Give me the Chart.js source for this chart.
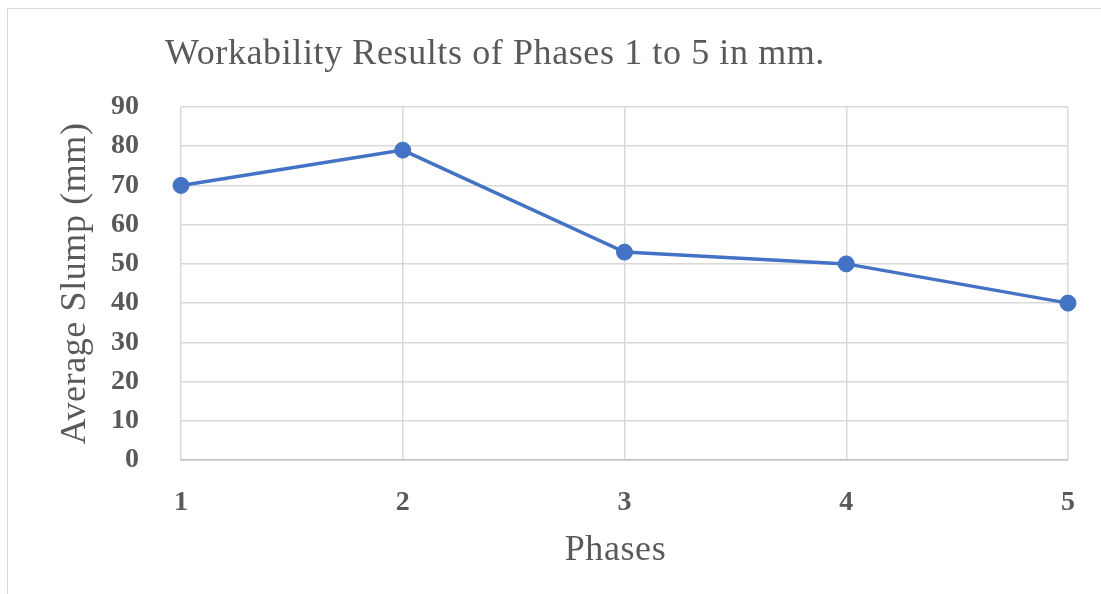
<!DOCTYPE html>
<html><head><meta charset="utf-8">
<script src="https://cdn.jsdelivr.net/npm/chart.js@4.4.0/dist/chart.umd.min.js"></script>
<style>
html,body{margin:0;padding:0;background:#fff;}
#wrap{position:absolute;left:0;top:0;width:1101px;height:594px;overflow:hidden;}
#frame{position:absolute;left:7px;top:8px;width:1200px;height:700px;border:1.5px solid #d9d9d9;box-sizing:border-box;}
canvas{position:absolute;left:0;top:0;}
</style></head>
<body>
<div id="wrap"><div id="frame"></div><canvas id="c" width="1101" height="594"></canvas></div>
<script>
const categories = ['1','2','3','4','5'];
const slump = [70, 79, 53, 50, 40];
const yTicks = [0,10,20,30,40,50,60,70,80,90];
const chartTitle = 'Workability Results of Phases 1 to 5 in mm.';
const xTitle = 'Phases';
const yTitle = 'Average Slump (mm)';

const txt = '#595959';
const serif = "'Liberation Serif','Times New Roman',serif";

const titlesPlugin = {
  id: 'titles',
  afterDraw(chart) {
    const ctx = chart.ctx;
    const a = chart.chartArea;
    ctx.save();
    ctx.fillStyle = txt;
    ctx.font = "normal 36px " + serif;
    try { ctx.letterSpacing = '0.6px'; } catch (e) {}
    ctx.textAlign = 'center';
    ctx.textBaseline = 'alphabetic';
    ctx.fillText(chartTitle, 495, 64);
    ctx.fillText(xTitle, a.left + (a.right - a.left) / 2 - 9, 560);
    ctx.translate(85, a.top + (a.bottom - a.top) / 2);
    ctx.rotate(-Math.PI / 2);
    ctx.fillText(yTitle, 0, 0);
    ctx.restore();
  }
};

new Chart(document.getElementById('c'), {
  type: 'line',
  data: {
    labels: categories,
    datasets: [{
      data: slump,
      borderColor: '#4472C4',
      backgroundColor: '#4472C4',
      borderWidth: 3.5,
      pointRadius: 8,
      pointHoverRadius: 8,
      pointBorderWidth: 1,
      pointBackgroundColor: '#4472C4',
      pointBorderColor: '#4472C4',
      tension: 0
    }]
  },
  plugins: [titlesPlugin],
  options: {
    responsive: false,
    animation: false,
    layout: { padding: { left: 0, right: 33, top: 107, bottom: 0 } },
    plugins: {
      legend: { display: false },
      tooltip: { enabled: false },
      title: { display: false }
    },
    scales: {
      x: {
        type: 'category',
        offset: false,
        grid: { color: '#d9d9d9', lineWidth: 1.5, drawTicks: false },
        border: { color: '#bfbfbf', width: 1.5 },
        ticks: { color: txt, font: { family: serif, size: 28, weight: 'bold' }, padding: 26, maxRotation: 0 },
        afterFit: s => { s.height = 134; }
      },
      y: {
        min: 0, max: 90,
        afterBuildTicks: s => { s.ticks = yTicks.map(v => ({ value: v })); },
        grid: { color: '#d9d9d9', lineWidth: 1.5, drawTicks: false },
        border: { display: false },
        ticks: { color: txt, font: { family: serif, size: 28, weight: 'bold' }, padding: 42 },
        afterFit: s => { s.width = 181; }
      }
    }
  }
});
</script>
</body></html>
